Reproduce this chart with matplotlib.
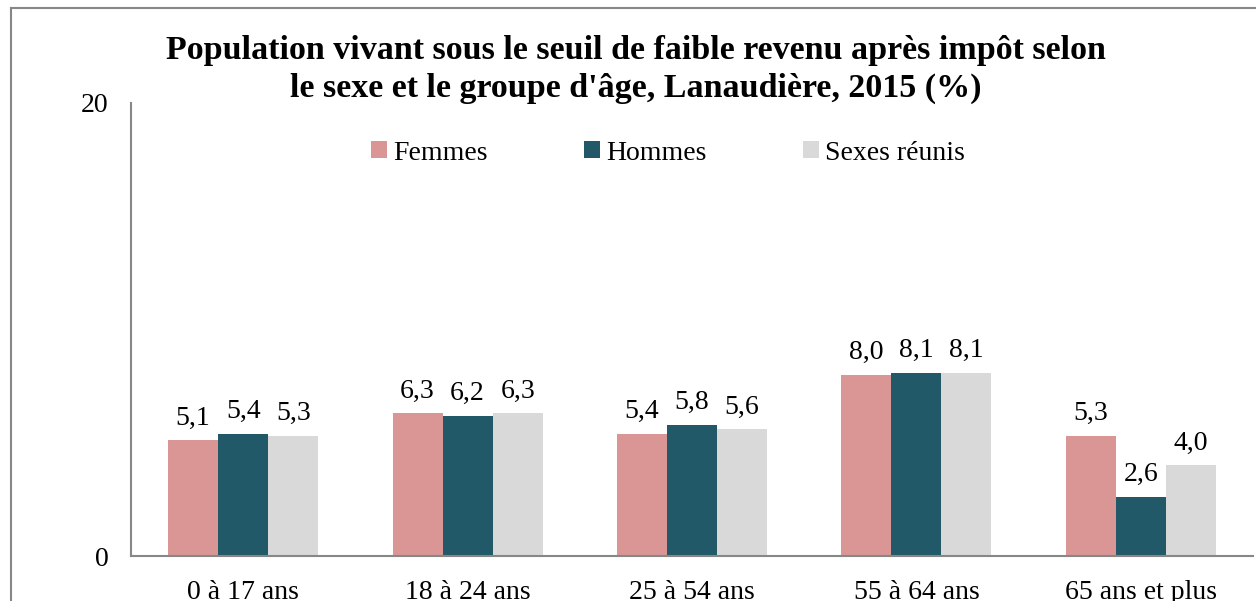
import matplotlib.pyplot as plt
from matplotlib.lines import Line2D
import numpy as np

# data
groupes = ["0 à 17 ans", "18 à 24 ans", "25 à 54 ans", "55 à 64 ans", "65 ans et plus"]
femmes = [5.1, 6.3, 5.4, 8.0, 5.3]
hommes = [5.4, 6.2, 5.8, 8.1, 2.6]
sexes_reunis = [5.3, 6.3, 5.6, 8.1, 4.0]
series = ["Femmes", "Hommes", "Sexes réunis"]

colors = ["#D99694", "#215968", "#D9D9D9"]
W, H = 1256, 601

plt.rcParams["font.family"] = ["Liberation Serif", "DejaVu Serif"]

fig = plt.figure(figsize=(W / 100, H / 100), dpi=100)
ax = fig.add_axes([131 / W, 1 - 556 / H, (1253 - 131) / W, (556 - 103) / H])

x = np.arange(len(groupes))
bw = 0.223
for i, (vals, name) in enumerate(zip([femmes, hommes, sexes_reunis], series)):
    bars = ax.bar(x + (i - 1) * bw, vals, bw, color=colors[i], label=name)
    for b, v in zip(bars, vals):
        ax.annotate(f"{v:.1f}".replace(".", ","), (b.get_x() + b.get_width() / 2, v),
                    xytext=(0, 7), textcoords="offset points",
                    ha="center", va="bottom", fontsize=20)

ax.set_xlim(-0.5, len(groupes) - 0.5)
ax.set_ylim(0, 20)
ax.set_yticks([0, 20])
ax.set_xticks(x)
ax.set_xticklabels(groupes)
ax.tick_params(axis="both", length=0, labelsize=20)
ax.tick_params(axis="x", pad=17)
ax.tick_params(axis="y", pad=16)
for s in ["top", "right"]:
    ax.spines[s].set_visible(False)
for s in ["left", "bottom"]:
    ax.spines[s].set_color("#878787")
    ax.spines[s].set_linewidth(1.5)

fig.text(636 / W, 1 - 50 / H,
         "Population vivant sous le seuil de faible revenu après impôt selon",
         ha="center", va="center", fontsize=24.5, fontweight="bold")
fig.text(636 / W, 1 - 88 / H,
         "le sexe et le groupe d'âge, Lanaudière, 2015 (%)",
         ha="center", va="center", fontsize=24.5, fontweight="bold")

ax.legend(loc="center", bbox_to_anchor=((668 - 131) / (1253 - 131), 1 - (153 - 103) / (556 - 103)),
          ncol=3, frameon=False, fontsize=20, handlelength=0.55, handleheight=0.55,
          handletextpad=0.22, columnspacing=3.5, borderaxespad=0, borderpad=0)

# outer chart border (cropped on right and bottom)
fig.add_artist(Line2D([10.5 / W, 10.5 / W], [0, 1 - 8 / H], color="#878787", lw=1.5))
fig.add_artist(Line2D([10.5 / W, 1], [1 - 8 / H, 1 - 8 / H], color="#878787", lw=1.5))

fig.savefig("out.png", dpi=100)
